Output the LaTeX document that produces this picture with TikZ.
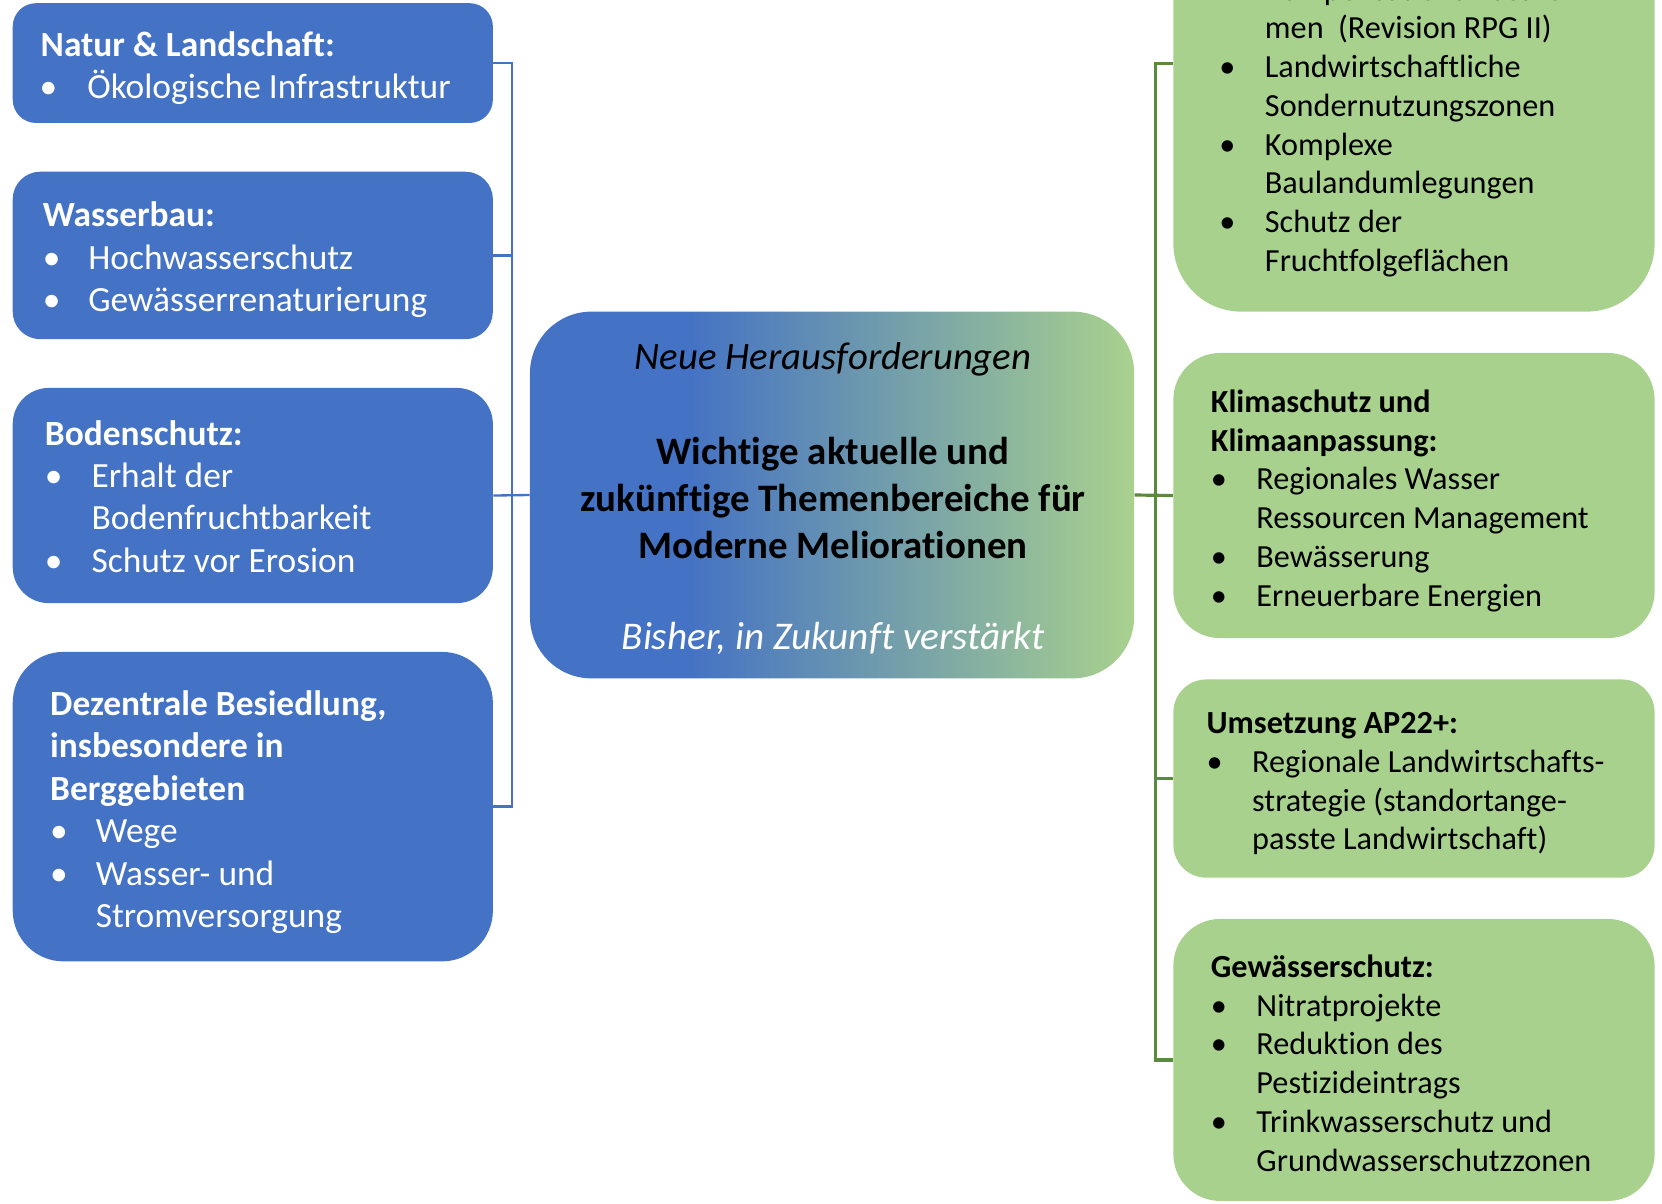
\documentclass[tikz,border=0pt]{standalone}
\usepackage{fontspec}
\setmainfont[Ligatures=NoCommon]{Carlito}
\definecolor{cblue}{HTML}{4472C4}
\definecolor{cgreen}{HTML}{A9D18E}
\definecolor{cdgreen}{HTML}{5A8A3C}
% blue on the left third, fading into green towards the right edge
\pgfdeclarehorizontalshading{bluegreen}{100bp}{color(0bp)=(cblue); color(38bp)=(cblue); color(75bp)=(cgreen); color(100bp)=(cgreen)}

% text block: rows are exactly one \baselineskip apart, baseline of first row is the reference
\newcommand\lines[1]{\begin{tabular}[t]{@{}l@{}}#1\end{tabular}}
% bullet item: offset of bullet, width from bullet to text, text
\newcommand\itm[3]{\hspace*{#1}\makebox[#2][l]{\textbullet}#3}
% continuation line of an item
\newcommand\cnt[2]{\hspace*{#1}#2}

\tikzset{
  lbox/.style={fill=cblue, draw=none, inner sep=0pt},
  rbox/.style={fill=cgreen, draw=none, inner sep=0pt},
  ltxt/.style={inner sep=0pt, anchor=base west, text=white,
               font=\fontsize{16.7pt}{20pt}\selectfont},
  rtxt/.style={inner sep=0pt, anchor=base west, text=black,
               font=\fontsize{15.2pt}{18.3pt}\selectfont},
  lconn/.style={draw=cblue, line width=1.1pt},
  rconn/.style={draw=cdgreen, line width=1.5pt},
}

\begin{document}
\begin{tikzpicture}[x=0.5pt, y=-0.5pt]
\useasboundingbox (0,0) rectangle (1568,1135);
\clip (0,0) rectangle (1568,1135);

% ---------- left column ----------
\node[lbox, minimum width=226.5pt, minimum height=56.5pt, rounded corners=11pt] (b1) at (238.5,59.5) {};
\node[lbox, minimum width=226.5pt, minimum height=79pt, rounded corners=13pt] (b2) at (238.5,241) {};
\node[lbox, minimum width=226.5pt, minimum height=101.5pt, rounded corners=17pt] (b3) at (238.5,467.5) {};
\node[lbox, minimum width=226.5pt, minimum height=146pt, rounded corners=24pt] (b4) at (238.5,761) {};

\node[ltxt] (b1t) at (38,53) {\lines{%
  \textbf{Natur \& Landschaft:}\\
  \itm{-0.5pt}{22.5pt}{Ökologische Infrastruktur}}};
\node[ltxt] (b2t) at (40,214) {\lines{%
  \textbf{Wasserbau:}\\
  \itm{0pt}{21.5pt}{Hochwasserschutz}\\
  \itm{0pt}{21.5pt}{Gewässerrenaturierung}}};
\node[ltxt] (b3t) at (42,420) {\lines{%
  \textbf{Bodenschutz:}\\
  \itm{0pt}{22pt}{Erhalt der}\\
  \cnt{22pt}{Bodenfruchtbarkeit}\\
  \itm{0pt}{22pt}{Schutz vor Erosion}}};
\node[ltxt] (b4t) at (47,675) {\lines{%
  \textbf{Dezentrale Besiedlung,}\\
  \textbf{insbesondere in}\\
  \textbf{Berggebieten}\\
  \itm{0pt}{21.5pt}{Wege}\\
  \itm{0pt}{21.5pt}{Wasser- und}\\
  \cnt{21.5pt}{Stromversorgung}}};

% ---------- centre ----------
\node[shading=bluegreen, draw=none, inner sep=0pt, rounded corners=29pt,
      minimum width=285pt, minimum height=173pt] (ctr) at (785,467) {};
\node[inner sep=0pt, anchor=base, font=\fontsize{18.3pt}{22pt}\selectfont\itshape] (ct1) at (786,349) {Neue Herausforderungen};
\node[inner sep=0pt, anchor=base, font=\fontsize{18.35pt}{22.2pt}\selectfont\bfseries] (ct2) at (786,438)
  {\begin{tabular}[t]{@{}c@{}}Wichtige aktuelle und\\ zukünftige Themenbereiche für\\ Moderne Meliorationen\end{tabular}};
\node[inner sep=0pt, anchor=base, text=white, font=\fontsize{18.5pt}{22pt}\selectfont\itshape] (ct3) at (786,613) {Bisher, in Zukunft verstärkt};

% ---------- right column ----------
\node[rbox, minimum width=227pt, minimum height=234pt, rounded corners=32pt] (r1) at (1334,60) {};
\node[rbox, minimum width=227pt, minimum height=134.5pt, rounded corners=22pt] (r2) at (1334,467.5) {};
\node[rbox, minimum width=227pt, minimum height=93.5pt, rounded corners=15.5pt] (r3) at (1334,734.5) {};
\node[rbox, minimum width=227pt, minimum height=133pt, rounded corners=22pt] (r4) at (1334,1000) {};

\node[rtxt] (r1t) at (1158,0) {\lines{%
  \cnt{17.5pt}{Kompensationsmassnah-}\\
  \cnt{17.5pt}{men\ \ (Revision RPG II)}\\
  \itm{-4pt}{21.5pt}{Landwirtschaftliche}\\
  \cnt{17.5pt}{Sondernutzungszonen}\\
  \itm{-4pt}{21.5pt}{Komplexe}\\
  \cnt{17.5pt}{Baulandumlegungen}\\
  \itm{-4pt}{21.5pt}{Schutz der}\\
  \cnt{17.5pt}{Fruchtfolgeflächen}}};
\node[rtxt] (r2t) at (1142,389) {\lines{%
  \textbf{Klimaschutz und}\\
  \textbf{Klimaanpassung:}\\
  \itm{0pt}{21.5pt}{Regionales Wasser}\\
  \cnt{21.5pt}{Ressourcen Management}\\
  \itm{0pt}{21.5pt}{Bewässerung}\\
  \itm{0pt}{21.5pt}{Erneuerbare Energien}}};
\node[rtxt] (r3t) at (1138,692) {\lines{%
  \textbf{Umsetzung AP22+:}\\
  \itm{0pt}{21.5pt}{Regionale Landwirtschafts-}\\
  \cnt{21.5pt}{strategie (standortange-}\\
  \cnt{21.5pt}{passte Landwirtschaft)}}};
\node[rtxt] (r4t) at (1142,922) {\lines{%
  \textbf{Gewässerschutz:}\\
  \itm{0pt}{21.5pt}{Nitratprojekte}\\
  \itm{0pt}{21.5pt}{Reduktion des}\\
  \cnt{21.5pt}{Pestizideintrags}\\
  \itm{0pt}{21.5pt}{Trinkwasserschutz und}\\
  \cnt{21.5pt}{Grundwasserschutzzonen}}};

% ---------- connectors ----------
\coordinate (lbus) at (483,0);
\coordinate (rbus) at (1090,0);
\draw[lconn] (b1.east) -- (b1.east -| lbus) -- (b4.east -| lbus) -- (b4.east);
\draw[lconn] (b2.east) -- (b2.east -| lbus);
\draw[lconn] (b3.east) -- (ctr.west);
\draw[rconn] (r1.west) -- (r1.west -| rbus) -- (r4.west -| rbus) -- (r4.west);
\draw[rconn] (ctr.east) -- (r2.west);
\draw[rconn] (r3.west) -- (r3.west -| rbus);
\end{tikzpicture}
\end{document}
